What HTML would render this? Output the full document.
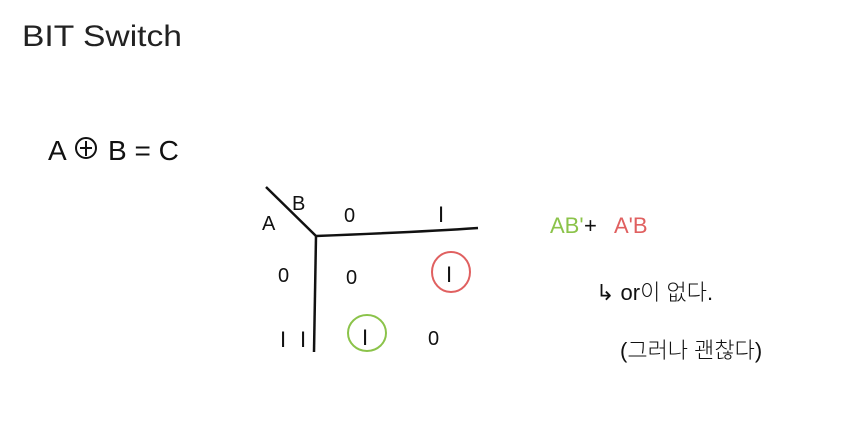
<!DOCTYPE html>
<html><head><meta charset="utf-8"><style>
html,body{margin:0;padding:0;background:#fff;}
svg{display:block;}
text{font-family:"Liberation Sans","Noto Sans CJK KR",sans-serif;fill:#111;font-weight:300;}
</style></head><body>
<svg width="859" height="436" viewBox="0 0 859 436">
<text x="22" y="46" font-size="30" textLength="160" lengthAdjust="spacingAndGlyphs" style="fill:#222">BIT Switch</text>
<text x="48" y="160" font-size="28">A</text>
<circle cx="86" cy="148" r="10" fill="none" stroke="#111" stroke-width="2"/>
<line x1="80" y1="148" x2="92" y2="148" stroke="#111" stroke-width="2"/>
<line x1="86" y1="141" x2="86" y2="156" stroke="#111" stroke-width="2"/>
<text x="108" y="160" font-size="28">B = C</text>
<path d="M266 187 L316 236 Q420 232 478 228" fill="none" stroke="#111" stroke-width="2.5"/>
<path d="M316 236 L314 352" fill="none" stroke="#111" stroke-width="2.5"/>
<text x="262" y="230" font-size="20">A</text>
<text x="292" y="210" font-size="20">B</text>
<text x="344" y="222" font-size="20">0</text>
<text x="438" y="222" font-size="22">I</text>
<text x="278" y="282" font-size="20">0</text>
<text x="280" y="347" font-size="22">I</text>
<text x="300" y="347" font-size="22">I</text>
<text x="346" y="284" font-size="20">0</text>
<text x="446" y="282" font-size="22">I</text>
<ellipse cx="451" cy="272" rx="19" ry="20" fill="none" stroke="#e06060" stroke-width="2"/>
<text x="362" y="345" font-size="22">I</text>
<ellipse cx="367" cy="333" rx="19" ry="18" fill="none" stroke="#8bc34a" stroke-width="2"/>
<text x="428" y="345" font-size="20">0</text>
<text x="550" y="233" font-size="22" style="fill:#8bc34a">AB'</text>
<text x="584" y="233" font-size="22">+</text>
<text x="614" y="233" font-size="22" style="fill:#e06060">A'B</text>
<text x="596" y="300" font-size="22">↳ or이 없다.</text>
<text x="620" y="358" font-size="22">(그러나 괜찮다)</text>
</svg>
</body></html>
